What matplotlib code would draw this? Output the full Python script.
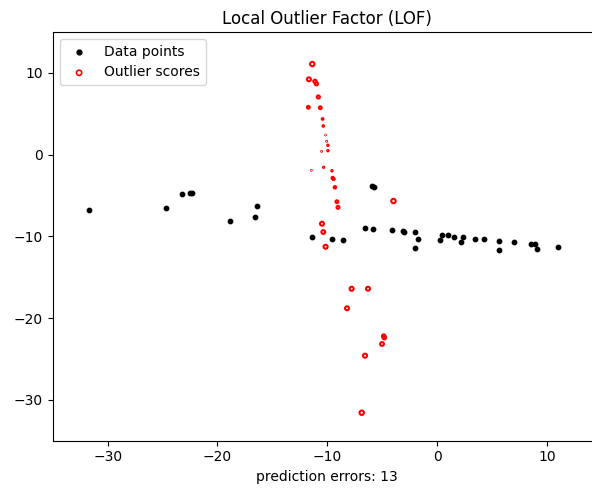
import matplotlib
matplotlib.use("Agg")
import matplotlib.pyplot as plt
import numpy as np

# Inlier data points (black)
data_x = [-31.69, -24.64, -23.21, -22.52, -22.27, -18.87, -16.55, -16.44,
          -11.39, -9.60, -8.57, -6.56, -5.83, -5.90, -5.75, -4.13, -3.13,
          -3.01, -2.03, -1.70, -2.03, 0.31, 0.43, 1.00, 1.52, 2.32, 2.22,
          3.44, 4.26, 5.65, 5.65, 6.99, 8.57, 8.93, 9.09, 11.00]
data_y = [-6.78, -6.50, -4.86, -4.73, -4.73, -8.12, -7.60, -6.25,
          -10.04, -10.29, -10.45, -8.98, -9.10, -3.90, -3.97, -9.22, -9.35,
          -9.51, -9.47, -10.33, -11.39, -10.45, -9.87, -9.87, -10.04, -10.04, -10.73,
          -10.33, -10.33, -10.57, -11.67, -10.73, -10.97, -10.97, -11.55, -11.27]

# Outliers with normalised outlier score (radius, 0..1)
out_x = [-11.36, -11.67, -11.12, -10.99, -10.81, -11.72, -10.63, -10.42,
         -10.36, -10.15, -10.05, -9.94, -10.51, -9.94, -11.45, -10.33, -9.57,
         -9.51, -9.42, -9.30, -9.12, -9.02, -3.97, -10.48, -10.36, -10.15,
         -7.78, -6.29, -8.20, -4.86, -4.80, -5.01, -6.56, -6.86]
out_y = [11.08, 9.21, 8.97, 8.67, 7.05, 5.79, 5.74, 4.36,
         3.50, 2.40, 1.63, 1.14, 0.40, 0.48, -1.92, -1.55, -1.97,
         -2.86, -2.98, -4.00, -5.76, -6.45, -5.68, -8.45, -9.47, -11.27,
         -16.41, -16.41, -18.80, -22.20, -22.40, -23.17, -24.60, -31.58]
out_radius = [1.0, 0.8, 0.55, 0.55, 0.5, 0.4, 0.4, 0.15,
              0.12, 0.02, 0.04, 0.1, 0.03, 0.1, 0.02, 0.08, 0.1,
              0.25, 0.25, 0.3, 0.4, 0.45, 1.0, 0.8, 0.75, 0.85,
              0.85, 0.8, 0.8, 0.6, 0.6, 0.75, 0.85, 1.0]

title = "Local Outlier Factor (LOF)"
xlabel = "prediction errors: 13"

fig = plt.figure(figsize=(5.92, 4.94), dpi=100)
ax = fig.add_axes([0.089, 0.1079, 0.9275, 0.8273])

ax.scatter(data_x, data_y, color="k", s=10, label="Data points")
ax.scatter(out_x, out_y, s=10 * np.array(out_radius), edgecolors="r",
           facecolors="none", linewidths=1.5, label="Outlier scores")

ax.set_xlim(-35, 15)
ax.set_ylim(-35, 15)
ax.set_title(title, fontsize=12)
ax.set_xlabel(xlabel)
leg = ax.legend(loc="upper left")
leg.legend_handles[0].set_sizes([12])
leg.legend_handles[1].set_sizes([14])
leg.legend_handles[1].set_linewidths([1.2])

fig.savefig("out.png", dpi=100)
